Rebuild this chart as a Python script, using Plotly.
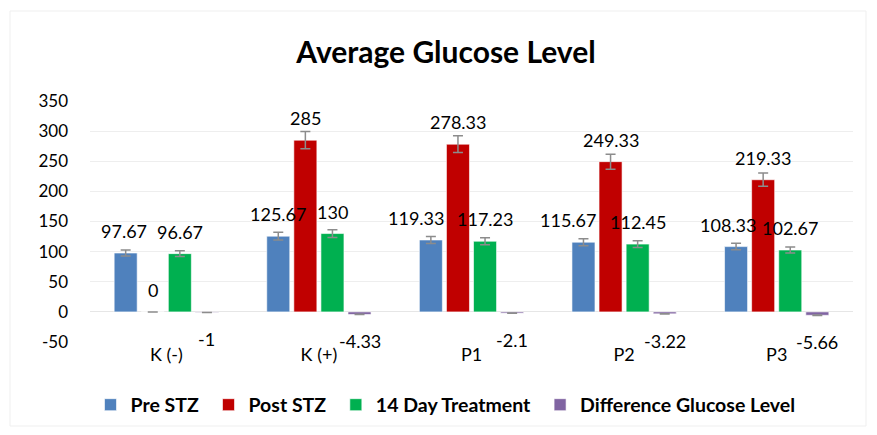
import plotly.graph_objects as go

categories = ["K (-)", "K (+)", "P1", "P2", "P3"]
pre_stz = [97.67, 125.67, 119.33, 115.67, 108.33]
post_stz = [0, 285, 278.33, 249.33, 219.33]
day14 = [96.67, 130, 117.23, 112.45, 102.67]
difference = [-1, -4.33, -2.1, -3.22, -5.66]
series_names = ["Pre STZ", "Post STZ", "14 Day Treatment", "Difference Glucose Level"]
series_values = [pre_stz, post_stz, day14, difference]
colors = ["#4F81BD", "#C00000", "#00B050", "#8064A2"]
y_ticks = [-50, 0, 50, 100, 150, 200, 250, 300, 350]
y_tick_labels = ["-50", "0", "50", "100", "150", "200", "250", "300", "350"]

FONT = "Lato, 'Open Sans', sans-serif"

# label nudges (px) for data labels moved to avoid overlap, as in the reference
label_nudge = {("Pre STZ", "K (-)"): -2, ("Pre STZ", "P1"): -15,
               ("Pre STZ", "P2"): -15, ("Pre STZ", "P3"): -8}

OFF = 8  # default page body margin
W, H = 877 - OFF, 435 - OFF
ML, MT = 90 - OFF, 101 - OFF
MR = W - (853 - OFF)
MB = H - (342 - OFF)
bargap = 0.29
bargroupgap = 0.15

fig = go.Figure()
for name, vals, col in zip(series_names, series_values, colors):
    fig.add_trace(go.Bar(
        x=categories, y=vals, name=name + "\u00a0",
        marker=dict(color=col, line=dict(color="rgba(255,255,255,0.6)", width=1)),
        error_y=dict(type="percent", value=5, color="#8C8C8C", thickness=1.5, width=5),
    ))

plot_w = W - ML - MR
plot_h = H - MT - MB
cat_w = plot_w / len(categories)
slot = cat_w * (1 - bargap) / 4
annotations = []
for i, (name, vals) in enumerate(zip(series_names, series_values)):
    off = (i - 1.5) * slot
    for c, v in zip(categories, vals):
        annotations.append(dict(
            x=c, y=v, xref="x", yref="y", text=f"{v:g}", showarrow=False,
            xshift=off + label_nudge.get((name, c), 0),
            yshift=22 if v >= 0 else -27,
            font=dict(family=FONT, size=18, color="#000000"),
        ))

def px_to_paper_x(px):
    return (px - OFF - ML) / plot_w

def px_to_paper_y(py):
    return ((H - MB) - (py - OFF)) / plot_h

fig.update_layout(
    width=W, height=H,
    margin=dict(l=ML, r=MR, t=MT, b=MB, autoexpand=False),
    paper_bgcolor="white", plot_bgcolor="white",
    barmode="group", bargap=bargap, bargroupgap=bargroupgap,
    title=dict(text="<b>Average Glucose Level</b>", x=(446 - OFF) / W, xanchor="center",
               y=1 - (52 - OFF) / H, yanchor="middle",
               font=dict(family=FONT, size=30, color="#000000")),
    xaxis=dict(showgrid=False, showline=False, ticks="", zeroline=False, automargin=False,
               tickfont=dict(family=FONT, size=18, color="#000000")),
    yaxis=dict(range=[-50, 350], tickvals=y_ticks, ticktext=y_tick_labels,
               showgrid=True, gridcolor="#EEEEEE", automargin=False,
               gridwidth=1, zeroline=True, zerolinecolor="#E6E6E6", zerolinewidth=1,
               showline=False, ticks="", ticklabelstandoff=21,
               tickfont=dict(family=FONT, size=17, color="#000000")),
    legend=dict(orientation="h", x=px_to_paper_x(448), xanchor="center",
                y=px_to_paper_y(405), yanchor="middle",
                font=dict(family=FONT, size=19.5, color="#000000", weight="bold"),
                itemwidth=30, traceorder="normal"),
    annotations=annotations,
    shapes=[dict(type="rect", xref="paper", yref="paper",
                 x0=px_to_paper_x(10), x1=px_to_paper_x(866),
                 y0=px_to_paper_y(426), y1=px_to_paper_y(11),
                 line=dict(color="#EFEFEF", width=1))],
    showlegend=True,
)

fig.write_html("out.html")
